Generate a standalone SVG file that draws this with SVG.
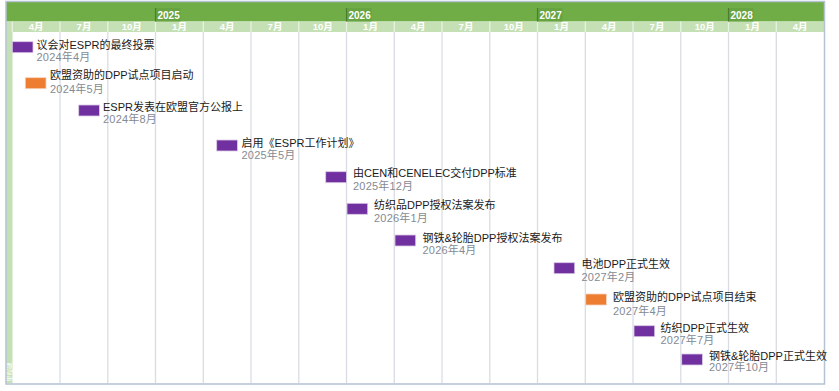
<svg xmlns="http://www.w3.org/2000/svg" width="839" height="391" viewBox="0 0 839 391">
<style>
.mh{font-family:"Liberation Sans","Noto Sans CJK SC",sans-serif;font-weight:bold;font-size:9.5px;fill:#ffffff;text-anchor:middle}
.yr{font-family:"Liberation Sans",sans-serif;font-weight:bold;font-size:10px;fill:#ffffff}
.grid{stroke:#d9dde3;stroke-width:1.3}
.sep{stroke:#e8f2e0;stroke-width:1.3}
.t{font-family:"Liberation Sans","Noto Sans CJK SC",sans-serif;font-size:11px;fill:#1a1a1a}
.d{font-family:"Liberation Sans","Noto Sans CJK SC",sans-serif;font-size:11px;fill:#858a93;letter-spacing:0.2px}
.p{fill:#7030a0;stroke:#d9cce6;stroke-width:0.8}
.o{fill:#ed7d31;stroke:#f6d3bd;stroke-width:0.8}
</style>
<rect x="0" y="0" width="839" height="391" fill="#ffffff"/>
<g id="frame">
<rect x="6" y="2" width="818.5" height="19.5" fill="#70ad47"/>
<rect x="6" y="21.5" width="818.5" height="10.5" fill="#c5e0b4"/>
<rect x="6" y="32" width="6.5" height="351" fill="#c5e0b4"/>
<text x="11.5" y="382" transform="rotate(-90 11.5 382)" font-family="Noto Sans CJK SC,sans-serif" font-size="6.5" fill="#ffffff">里程碑</text>
</g>
<g id="grid">
<line class="grid" x1="60" y1="32" x2="60" y2="383"/>
<line class="grid" x1="107.8" y1="32" x2="107.8" y2="383"/>
<line class="grid" x1="155.5" y1="32" x2="155.5" y2="383"/>
<line class="grid" x1="203.3" y1="32" x2="203.3" y2="383"/>
<line class="grid" x1="251" y1="32" x2="251" y2="383"/>
<line class="grid" x1="298.8" y1="32" x2="298.8" y2="383"/>
<line class="grid" x1="346.5" y1="32" x2="346.5" y2="383"/>
<line class="grid" x1="394.3" y1="32" x2="394.3" y2="383"/>
<line class="grid" x1="442" y1="32" x2="442" y2="383"/>
<line class="grid" x1="489.8" y1="32" x2="489.8" y2="383"/>
<line class="grid" x1="537.5" y1="32" x2="537.5" y2="383"/>
<line class="grid" x1="585.3" y1="32" x2="585.3" y2="383"/>
<line class="grid" x1="633" y1="32" x2="633" y2="383"/>
<line class="grid" x1="680.8" y1="32" x2="680.8" y2="383"/>
<line class="grid" x1="728.5" y1="32" x2="728.5" y2="383"/>
<line class="grid" x1="776.3" y1="32" x2="776.3" y2="383"/>
<line class="sep" x1="12.3" y1="21.5" x2="12.3" y2="32"/>
<line class="sep" x1="60" y1="21.5" x2="60" y2="32"/>
<line class="sep" x1="107.8" y1="21.5" x2="107.8" y2="32"/>
<line class="sep" x1="155.5" y1="21.5" x2="155.5" y2="32"/>
<line class="sep" x1="203.3" y1="21.5" x2="203.3" y2="32"/>
<line class="sep" x1="251" y1="21.5" x2="251" y2="32"/>
<line class="sep" x1="298.8" y1="21.5" x2="298.8" y2="32"/>
<line class="sep" x1="346.5" y1="21.5" x2="346.5" y2="32"/>
<line class="sep" x1="394.3" y1="21.5" x2="394.3" y2="32"/>
<line class="sep" x1="442" y1="21.5" x2="442" y2="32"/>
<line class="sep" x1="489.8" y1="21.5" x2="489.8" y2="32"/>
<line class="sep" x1="537.5" y1="21.5" x2="537.5" y2="32"/>
<line class="sep" x1="585.3" y1="21.5" x2="585.3" y2="32"/>
<line class="sep" x1="633" y1="21.5" x2="633" y2="32"/>
<line class="sep" x1="680.8" y1="21.5" x2="680.8" y2="32"/>
<line class="sep" x1="728.5" y1="21.5" x2="728.5" y2="32"/>
<line class="sep" x1="776.3" y1="21.5" x2="776.3" y2="32"/>
</g>
<g id="years">
<rect x="155.5" y="8" width="25" height="13.5" fill="#67a340"/>
<line x1="155.5" y1="8" x2="155.5" y2="21.5" stroke="#4e7d30" stroke-width="1.2"/>
<text class="yr" x="157.5" y="18.5">2025</text>
<rect x="346.5" y="8" width="25" height="13.5" fill="#67a340"/>
<line x1="346.5" y1="8" x2="346.5" y2="21.5" stroke="#4e7d30" stroke-width="1.2"/>
<text class="yr" x="348.5" y="18.5">2026</text>
<rect x="537.5" y="8" width="25" height="13.5" fill="#67a340"/>
<line x1="537.5" y1="8" x2="537.5" y2="21.5" stroke="#4e7d30" stroke-width="1.2"/>
<text class="yr" x="539.5" y="18.5">2027</text>
<rect x="728.5" y="8" width="25" height="13.5" fill="#67a340"/>
<line x1="728.5" y1="8" x2="728.5" y2="21.5" stroke="#4e7d30" stroke-width="1.2"/>
<text class="yr" x="730.5" y="18.5">2028</text>
</g>
<g id="months">
<text class="mh" x="36.2" y="30">4月</text>
<text class="mh" x="84" y="30">7月</text>
<text class="mh" x="131.7" y="30">10月</text>
<text class="mh" x="179.5" y="30">1月</text>
<text class="mh" x="227.2" y="30">4月</text>
<text class="mh" x="275" y="30">7月</text>
<text class="mh" x="322.7" y="30">10月</text>
<text class="mh" x="370.5" y="30">1月</text>
<text class="mh" x="418.2" y="30">4月</text>
<text class="mh" x="466" y="30">7月</text>
<text class="mh" x="513.7" y="30">10月</text>
<text class="mh" x="561.5" y="30">1月</text>
<text class="mh" x="609.2" y="30">4月</text>
<text class="mh" x="657" y="30">7月</text>
<text class="mh" x="704.7" y="30">10月</text>
<text class="mh" x="752.5" y="30">1月</text>
<text class="mh" x="800.2" y="30">4月</text>
</g>
<g id="border">
<rect x="6" y="1.5" width="818.5" height="382.5" fill="none" stroke="#b4c2d2" stroke-width="1.5"/>
</g>
<g id="connectors"></g>
<g id="m1"><rect class="p" x="12.3" y="41.7" width="20.7" height="11"/><text class="t" x="36.5" y="49">议会对ESPR的最终投票</text><text class="d" x="36.5" y="61">2024年4月</text></g>
<g id="m2"><rect class="o" x="25.3" y="77.7" width="20.7" height="11"/><text class="t" x="50" y="79">欧盟资助的DPP试点项目启动</text><text class="d" x="50" y="93">2024年5月</text></g>
<g id="m3"><rect class="p" x="78.7" y="105" width="20.7" height="11"/><text class="t" x="103" y="111">ESPR发表在欧盟官方公报上</text><text class="d" x="103" y="123">2024年8月</text></g>
<g id="m4"><rect class="p" x="216.7" y="140" width="20.7" height="11"/><text class="t" x="241.5" y="146.5">启用《ESPR工作计划》</text><text class="d" x="241.5" y="158.5">2025年5月</text></g>
<g id="m5"><rect class="p" x="325.7" y="171.7" width="20.7" height="11"/><text class="t" x="353" y="176.5">由CEN和CENELEC交付DPP标准</text><text class="d" x="353" y="190">2025年12月</text></g>
<g id="m6"><rect class="p" x="347" y="203.3" width="20.7" height="11"/><text class="t" x="374" y="209">纺织品DPP授权法案发布</text><text class="d" x="374" y="222">2026年1月</text></g>
<g id="m7"><rect class="p" x="395" y="235" width="20.7" height="11"/><text class="t" x="422.5" y="241.5">钢铁&amp;轮胎DPP授权法案发布</text><text class="d" x="422.5" y="254">2026年4月</text></g>
<g id="m8"><rect class="p" x="554" y="262.7" width="20.7" height="11"/><text class="t" x="581.5" y="268">电池DPP正式生效</text><text class="d" x="581.5" y="280.5">2027年2月</text></g>
<g id="m9"><rect class="o" x="585.7" y="294" width="20.7" height="11"/><text class="t" x="613" y="300.5">欧盟资助的DPP试点项目结束</text><text class="d" x="613" y="315">2027年4月</text></g>
<g id="m10"><rect class="p" x="634" y="325.7" width="20.7" height="11"/><text class="t" x="660.5" y="331.5">纺织DPP正式生效</text><text class="d" x="660.5" y="344">2027年7月</text></g>
<g id="m11"><rect class="p" x="681.7" y="354" width="20.7" height="11"/><text class="t" x="709" y="360">钢铁&amp;轮胎DPP正式生效</text><text class="d" x="709" y="371">2027年10月</text></g>
</svg>
